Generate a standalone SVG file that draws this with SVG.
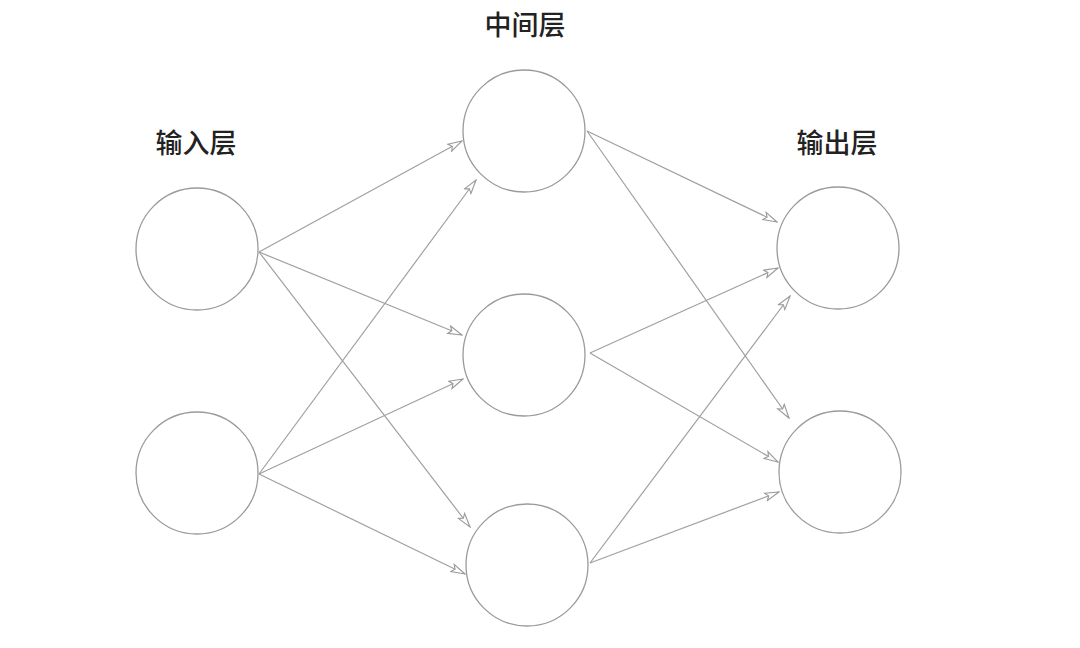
<svg xmlns="http://www.w3.org/2000/svg" width="1080" height="648" viewBox="0 0 1080 648">
<style>
.node{fill:#fff;stroke:#9a9a9a;stroke-width:1.3}
.edge{stroke:#a0a0a0;stroke-width:1.2;fill:none;marker-end:url(#arr)}
.lbl{font-family:"Noto Sans CJK SC","Noto Sans",sans-serif;font-size:27px;font-weight:500;fill:#222;text-anchor:middle}
</style>
<defs>
<marker id="arr" viewBox="0 0 16 10" refX="15" refY="5" markerWidth="16" markerHeight="10" markerUnits="userSpaceOnUse" orient="auto">
<path d="M1,1 L15,5 L1,9 L4,5 Z" fill="#fff" stroke="#999" stroke-width="1.1" stroke-linejoin="miter"/>
</marker>
</defs>
<rect width="1080" height="648" fill="#fff"/>
<g id="connectors">
<line class="edge" x1="259" y1="252" x2="462" y2="141"/>
<line class="edge" x1="259" y1="252" x2="462" y2="335"/>
<line class="edge" x1="259" y1="252" x2="470" y2="527"/>
<line class="edge" x1="259" y1="474" x2="476" y2="180"/>
<line class="edge" x1="259" y1="474" x2="463" y2="379"/>
<line class="edge" x1="259" y1="474" x2="465" y2="574"/>
<line class="edge" x1="587" y1="131" x2="777" y2="222"/>
<line class="edge" x1="587" y1="131" x2="789" y2="418"/>
<line class="edge" x1="590" y1="353" x2="778" y2="268"/>
<line class="edge" x1="590" y1="353" x2="778" y2="462"/>
<line class="edge" x1="590" y1="563" x2="790" y2="296"/>
<line class="edge" x1="590" y1="563" x2="779" y2="492"/>
</g>
<g id="in1"><circle class="node" cx="197" cy="249" r="61"/></g>
<g id="in2"><circle class="node" cx="197" cy="473" r="61"/></g>
<g id="mid1"><circle class="node" cx="524" cy="131" r="61"/></g>
<g id="mid2"><circle class="node" cx="524" cy="355" r="61"/></g>
<g id="mid3"><circle class="node" cx="527" cy="565" r="61"/></g>
<g id="out1"><circle class="node" cx="838" cy="248" r="61"/></g>
<g id="out2"><circle class="node" cx="840" cy="472" r="61"/></g>
<g id="labels">
<text class="lbl" x="196" y="153">输入层</text>
<text class="lbl" x="525" y="35">中间层</text>
<text class="lbl" x="837" y="153">输出层</text>
</g>
</svg>
